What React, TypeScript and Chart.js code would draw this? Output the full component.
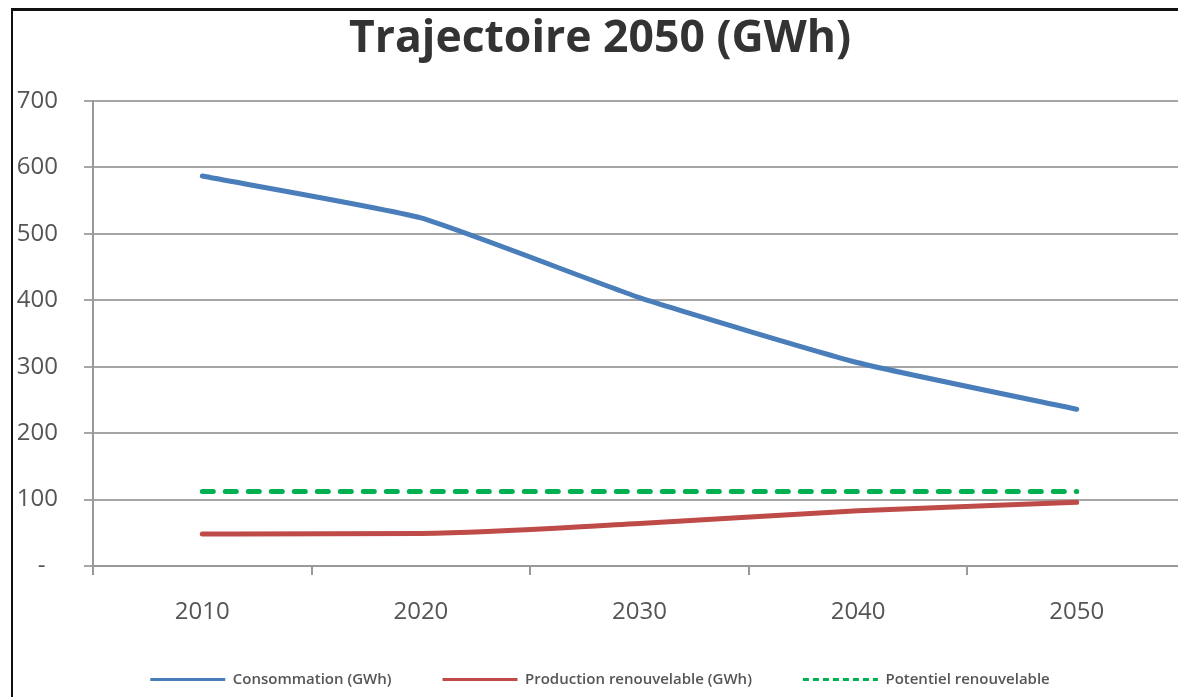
import React, { useEffect, useRef } from "react";
import { Chart, registerables } from "chart.js";

Chart.register(...registerables);

const categories = ["2010", "2020", "2030", "2040", "2050"];
const consommation = [587, 524, 404, 306, 236];
const production = [48, 49, 64, 83, 96];
const potentiel = [112, 112, 112, 112, 112];
const yTicks = [0, 100, 200, 300, 400, 500, 600, 700];

const FONT = "'Open Sans', 'DejaVu Sans', sans-serif";

export default function App() {
  const ref = useRef<HTMLCanvasElement | null>(null);

  useEffect(() => {
    if (!ref.current) return;
    const chart = new Chart(ref.current, {
      type: "line",
      data: {
        labels: categories,
        datasets: [
          {
            label: "Consommation (GWh)",
            data: consommation,
            borderColor: "#4A7EBB",
            backgroundColor: "#4A7EBB",
            borderWidth: 5,
            borderCapStyle: "round",
            borderJoinStyle: "round",
            pointRadius: 0,
            tension: 0.15,
          },
          {
            label: "Production renouvelable (GWh)",
            data: production,
            borderColor: "#BE4B48",
            backgroundColor: "#BE4B48",
            borderWidth: 5,
            borderCapStyle: "round",
            borderJoinStyle: "round",
            pointRadius: 0,
            cubicInterpolationMode: "monotone",
          },
          {
            label: "Potentiel renouvelable",
            data: potentiel,
            borderColor: "#00B050",
            backgroundColor: "#00B050",
            borderWidth: 5,
            borderCapStyle: "round",
            borderDash: [11, 12],
            pointRadius: 0,
            tension: 0,
          },
        ],
      },
      options: {
        responsive: false,
        animation: false,
        devicePixelRatio: 1,
        layout: { padding: { left: 14, right: 14, top: 0, bottom: 0 } },
        plugins: {
          title: {
            display: true,
            text: "Trajectoire 2050 (GWh)",
            color: "#333333",
            font: { family: FONT, size: 44.5, weight: "bold" },
            padding: { top: 13, bottom: 34.6 },
          },
          legend: {
            position: "bottom",
            labels: {
              usePointStyle: true,
              pointStyleWidth: 75,
              boxHeight: 3,
              padding: 51,
              color: "#555555",
              font: { family: FONT, size: 15, weight: "600" },
              generateLabels: (c: any) =>
                c.data.datasets.map((d: any, i: number) => ({
                  text: d.label,
                  datasetIndex: i,
                  pointStyle: "line",
                  strokeStyle: d.borderColor,
                  fillStyle: d.borderColor,
                  lineWidth: 3,
                  lineDash: i === 2 ? [6, 4] : [],
                  fontColor: "#555555",
                  hidden: false,
                })),
            },
          },
          tooltip: { enabled: false },
        },
        scales: {
          x: {
            offset: true,
            afterFit: (s: any) => {
              s.height = 55;
            },
            grid: {
              offset: true,
              drawOnChartArea: false,
              drawTicks: true,
              tickLength: 9,
              color: "#999999",
              lineWidth: 2,
            },
            border: { color: "#999999", width: 2 },
            ticks: {
              color: "#555555",
              font: { family: FONT, size: 24 },
              padding: 23,
              maxRotation: 0,
            },
          },
          y: {
            min: 0,
            max: 700,
            afterFit: (s: any) => {
              s.width = 79;
            },
            afterBuildTicks: (s: any) => {
              s.ticks = yTicks.map((v) => ({ value: v }));
            },
            grid: {
              color: "#A6A6A6",
              lineWidth: 2,
              tickLength: 9,
            },
            border: { color: "#999999", width: 2 },
            ticks: {
              color: "#555555",
              font: { family: FONT, size: 24 },
              padding: 26,
              callback: (v: any) => (Number(v) === 0 ? "-  " : String(v)),
            },
          },
        },
      },
    });
    return () => chart.destroy();
  }, []);

  return (
    <div
      style={{
        position: "fixed",
        left: 0,
        top: 0,
        width: 1178,
        height: 697,
        overflow: "hidden",
        background: "#ffffff",
      }}
    >
      <div
        style={{
          position: "absolute",
          left: 11,
          top: 8,
          width: 1300,
          height: 800,
          borderLeft: "2px solid #111",
          borderTop: "3px solid #111",
        }}
      />
      <canvas
        ref={ref}
        width={1200}
        height={697}
        style={{ position: "absolute", left: 0, top: 0, width: 1200, height: 697 }}
      />
    </div>
  );
}
